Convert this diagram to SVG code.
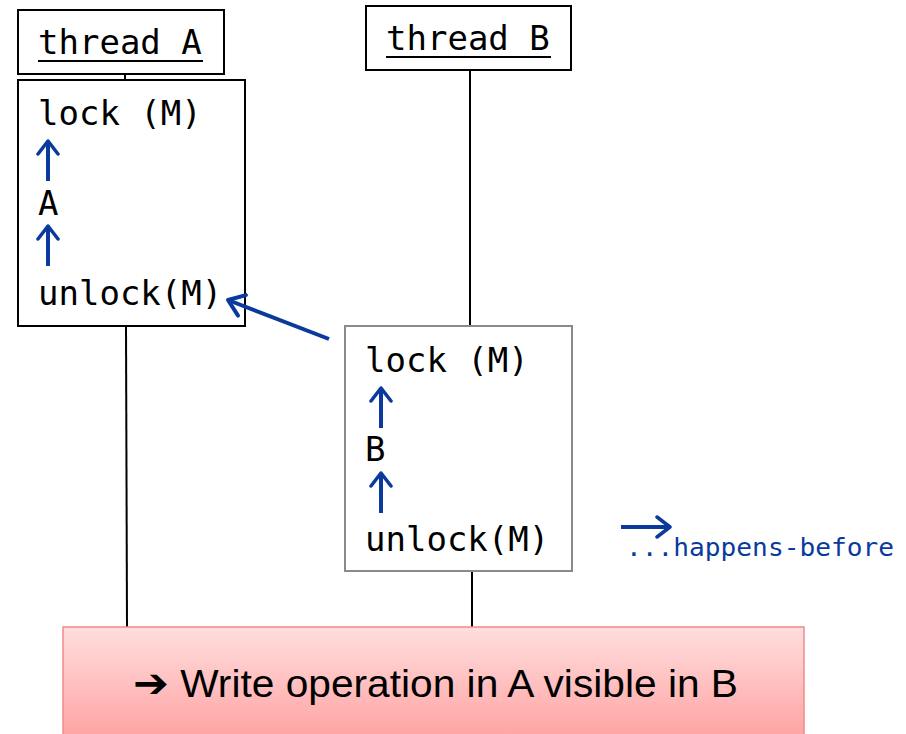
<svg xmlns="http://www.w3.org/2000/svg" width="906" height="734" viewBox="0 0 906 734">
<defs>
<linearGradient id="pink" x1="0" y1="0" x2="0" y2="1">
<stop offset="0" stop-color="#ffdede"/>
<stop offset="1" stop-color="#ff9e9e"/>
</linearGradient>
<marker id="hb" viewBox="0 0 20 24" refX="17" refY="12" markerWidth="20" markerHeight="24" markerUnits="userSpaceOnUse" orient="auto">
<path d="M4,2 L17,12 L4,22" fill="none" stroke="#0a3a9c" stroke-width="3.5" stroke-linecap="round" stroke-linejoin="round"/>
</marker>
<marker id="hb2" viewBox="0 0 22 26" refX="19" refY="13" markerWidth="22" markerHeight="26" markerUnits="userSpaceOnUse" orient="auto">
<path d="M4,2 L19,13 L4,24" fill="none" stroke="#0a3a9c" stroke-width="4" stroke-linecap="round" stroke-linejoin="round"/>
</marker>
</defs>
<style>
.mono{font-family:"DejaVu Sans Mono","Liberation Mono",monospace;font-size:34px;fill:#000}
.box{fill:#fff;stroke:#000;stroke-width:2}
.life{stroke:#000;stroke-width:2;fill:none}
.hb{stroke:#0a3a9c;stroke-width:4;fill:none}
</style>
<rect width="906" height="734" fill="#fff"/>
<g id="lifelines">
<line class="life" x1="125" y1="74" x2="125" y2="80"/>
<line class="life" x1="126" y1="326" x2="127" y2="627"/>
<line class="life" x1="470" y1="70" x2="470" y2="326"/>
<line class="life" x1="472" y1="571" x2="472" y2="627"/>
</g>
<g id="threadA">
<rect class="box" x="18" y="10" width="206" height="64"/>
<text class="mono" x="38" y="54">thread A</text>
<line x1="38" y1="61" x2="203" y2="61" stroke="#000" stroke-width="2"/>
</g>
<g id="threadB">
<rect class="box" x="366" y="6" width="205" height="64"/>
<text class="mono" x="386" y="50">thread B</text>
<line x1="386" y1="57" x2="551" y2="57" stroke="#000" stroke-width="2"/>
</g>
<g id="blockA">
<rect class="box" x="18" y="80" width="227" height="246"/>
<text class="mono" x="38" y="125">lock (M)</text>
<line class="hb" x1="48" y1="181" x2="48" y2="141" marker-end="url(#hb)"/>
<text class="mono" x="38" y="215">A</text>
<line class="hb" x1="48" y1="266" x2="48" y2="226" marker-end="url(#hb)"/>
<text class="mono" x="38" y="305">unlock(M)</text>
</g>
<g id="blockB">
<rect x="345" y="326" width="227" height="245" fill="#fff" stroke="#8a8a8a" stroke-width="2"/>
<text class="mono" x="365" y="372">lock (M)</text>
<line class="hb" x1="381" y1="428" x2="381" y2="388" marker-end="url(#hb)"/>
<text class="mono" x="365" y="461">B</text>
<line class="hb" x1="381" y1="513" x2="381" y2="473" marker-end="url(#hb)"/>
<text class="mono" x="365" y="551">unlock(M)</text>
</g>
<g id="connectors">
<line class="hb" x1="329" y1="339" x2="228" y2="300" marker-end="url(#hb2)"/>
</g>
<g id="legend">
<line class="hb" x1="621" y1="527" x2="670" y2="527" marker-end="url(#hb)"/>
<text x="626" y="556" font-family="DejaVu Sans Mono, monospace" font-size="24" fill="#0a3a9c" textLength="268" lengthAdjust="spacingAndGlyphs">...happens-before</text>
</g>
<g id="result">
<rect x="63" y="627" width="741" height="120" fill="url(#pink)" stroke="#f08a8a" stroke-width="1.5"/>
<text x="133" y="697" font-family="Liberation Sans, DejaVu Sans, sans-serif" font-size="38" fill="#000" textLength="605" lengthAdjust="spacingAndGlyphs"><tspan font-family="DejaVu Sans, sans-serif" font-weight="bold" font-size="40">➔</tspan> Write operation in A visible in B</text>
</g>
</svg>
